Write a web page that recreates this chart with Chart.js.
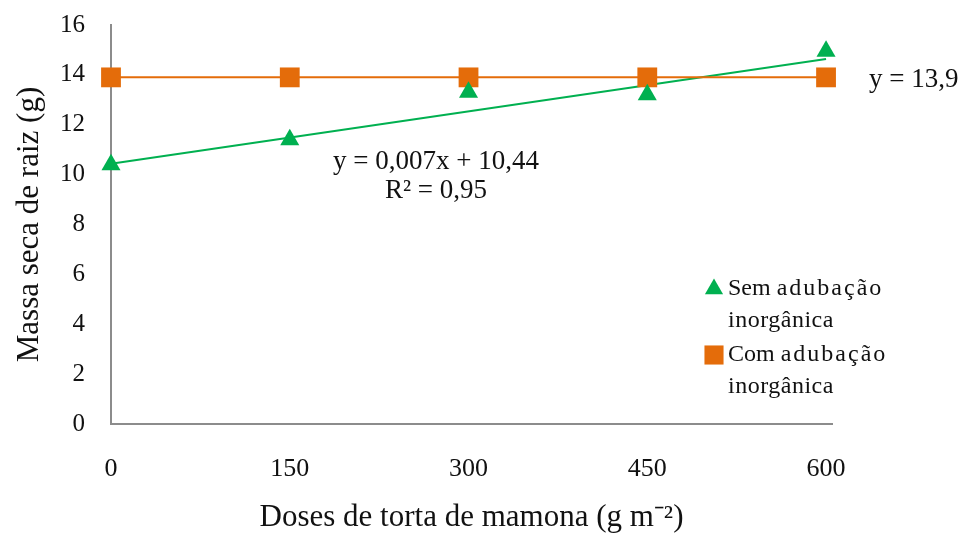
<!DOCTYPE html>
<html>
<head>
<meta charset="utf-8">
<script src="https://cdn.jsdelivr.net/npm/chart.js@4.4.1/dist/chart.umd.min.js"></script>
<style>
  html, body { margin: 0; padding: 0; background: #fff; }
  #wrap { width: 964px; height: 536px; }
</style>
</head>
<body>
<div id="wrap"><canvas id="c" width="964" height="536"></canvas></div>
<script>
// Doses of castor cake (g m-2)
const doses = [0, 150, 300, 450, 600];
// Root dry mass (g) without inorganic fertilisation
const semAdubacao = [10.4, 11.4, 13.3, 13.2, 14.95];
// Root dry mass (g) with inorganic fertilisation
const comAdubacao = [13.9, 13.9, 13.9, 13.9, 13.9];
// Fitted linear model for the unfertilised series: y = 0,007x + 10,44
const trendSlope = 0.007;
const trendIntercept = 10.44;
const xTicks = [0, 150, 300, 450, 600];
const yTicks = [0, 2, 4, 6, 8, 10, 12, 14, 16];
const legendLabels = [['Sem', 'adubação', 'inorgânica'], ['Com', 'adubação', 'inorgânica']];

const GREEN = '#00B050';
const ORANGE = '#E46C0A';
const AXIS = '#8c8c8c';
const SERIF = '"Liberation Serif", "Times New Roman", serif';

const pts = (xs, ys) => xs.map((x, i) => ({ x: x, y: ys[i] }));
const trendPts = [doses[0], doses[doses.length - 1]].map(x => ({ x: x, y: trendSlope * x + trendIntercept }));

const annotations = {
  id: 'annotations',
  afterDatasetsDraw(chart) {
    const ctx = chart.ctx;
    ctx.save();
    ctx.fillStyle = '#111';
    ctx.font = '27px ' + SERIF;
    ctx.textBaseline = 'middle';
    ctx.textAlign = 'center';
    ctx.fillText('y = 0,007x + 10,44', 436, 162);
    ctx.fillText('R² = 0,95', 436, 191);
    ctx.textAlign = 'left';
    ctx.fillText('y = 13,9', 869, 80);

    // legend: marker, first line "Sem/Com adubação", second line "inorgânica"
    const lx = 714;
    const rows = [
      { style: 'triangle', color: GREEN, r: 10.5, y: 289, lines: legendLabels[0] },
      { style: 'rect', color: ORANGE, r: 13.5, y: 355, lines: legendLabels[1] }
    ];
    ctx.font = '24px ' + SERIF;
    rows.forEach(row => {
      ctx.fillStyle = row.color;
      ctx.strokeStyle = row.color;
      Chart.helpers.drawPoint(ctx, { pointStyle: row.style, radius: row.r, borderWidth: 0 }, lx, row.y);
      ctx.fillStyle = '#111';
      ctx.textAlign = 'left';
      ctx.letterSpacing = '0px';
      ctx.fillText(row.lines[0], lx + 14, row.y);
      const w = ctx.measureText(row.lines[0] + ' ').width;
      ctx.letterSpacing = '2px';
      ctx.fillText(row.lines[1], lx + 14 + w, row.y);
      ctx.letterSpacing = '0.5px';
      ctx.fillText(row.lines[2], lx + 14, row.y + 32);
    });
    ctx.restore();
  }
};

new Chart(document.getElementById('c'), {
  type: 'scatter',
  data: {
    datasets: [
      {
        label: 'trend',
        data: trendPts,
        showLine: true,
        borderColor: GREEN,
        borderWidth: 2,
        pointRadius: 0,
        clip: false,
        order: 3
      },
      {
        label: 'Com adubação inorgânica',
        data: pts(doses, comAdubacao),
        showLine: true,
        borderColor: ORANGE,
        backgroundColor: ORANGE,
        borderWidth: 2,
        pointStyle: 'rect',
        pointRadius: 14,
        pointBorderWidth: 0,
        clip: false,
        order: 2
      },
      {
        label: 'Sem adubação inorgânica',
        data: pts(doses, semAdubacao),
        showLine: false,
        borderColor: GREEN,
        backgroundColor: GREEN,
        pointStyle: 'triangle',
        pointRadius: 11,
        pointBorderWidth: 0,
        clip: false,
        order: 1
      }
    ]
  },
  options: {
    responsive: false,
    animation: false,
    events: [],
    layout: { padding: { top: 25, right: 132, left: 0, bottom: 0 } },
    plugins: {
      legend: { display: false },
      tooltip: { enabled: false }
    },
    scales: {
      x: {
        type: 'linear',
        min: 0,
        max: 605,
        afterBuildTicks(scale) { scale.ticks = xTicks.map(v => ({ value: v })); },
        afterFit(scale) {
          scale.height = 112;
          scale.paddingLeft = 0;
          scale.paddingRight = 0;
        },
        grid: { display: false, drawTicks: false },
        border: { color: AXIS, width: 2 },
        ticks: {
          padding: 30,
          color: '#111',
          font: { family: SERIF, size: 26 },
          maxRotation: 0
        },
        title: {
          display: true,
          text: 'Doses de torta de mamona (g m⁻²)',
          color: '#111',
          font: { family: SERIF, size: 31 },
          padding: { top: 0, bottom: 0 }
        }
      },
      y: {
        min: 0,
        max: 16,
        afterBuildTicks(scale) { scale.ticks = yTicks.map(v => ({ value: v })); },
        afterFit(scale) {
          scale.width = 111;
          scale.paddingTop = 0;
          scale.paddingBottom = 0;
        },
        grid: { display: false, drawTicks: false },
        border: { color: AXIS, width: 2 },
        ticks: {
          padding: 26,
          color: '#111',
          font: { family: SERIF, size: 25 }
        },
        title: {
          display: true,
          text: 'Massa seca de raiz (g)',
          color: '#111',
          font: { family: SERIF, size: 31 },
          padding: { top: 11, bottom: 0 }
        }
      }
    }
  },
  plugins: [annotations]
});
</script>
</body>
</html>
